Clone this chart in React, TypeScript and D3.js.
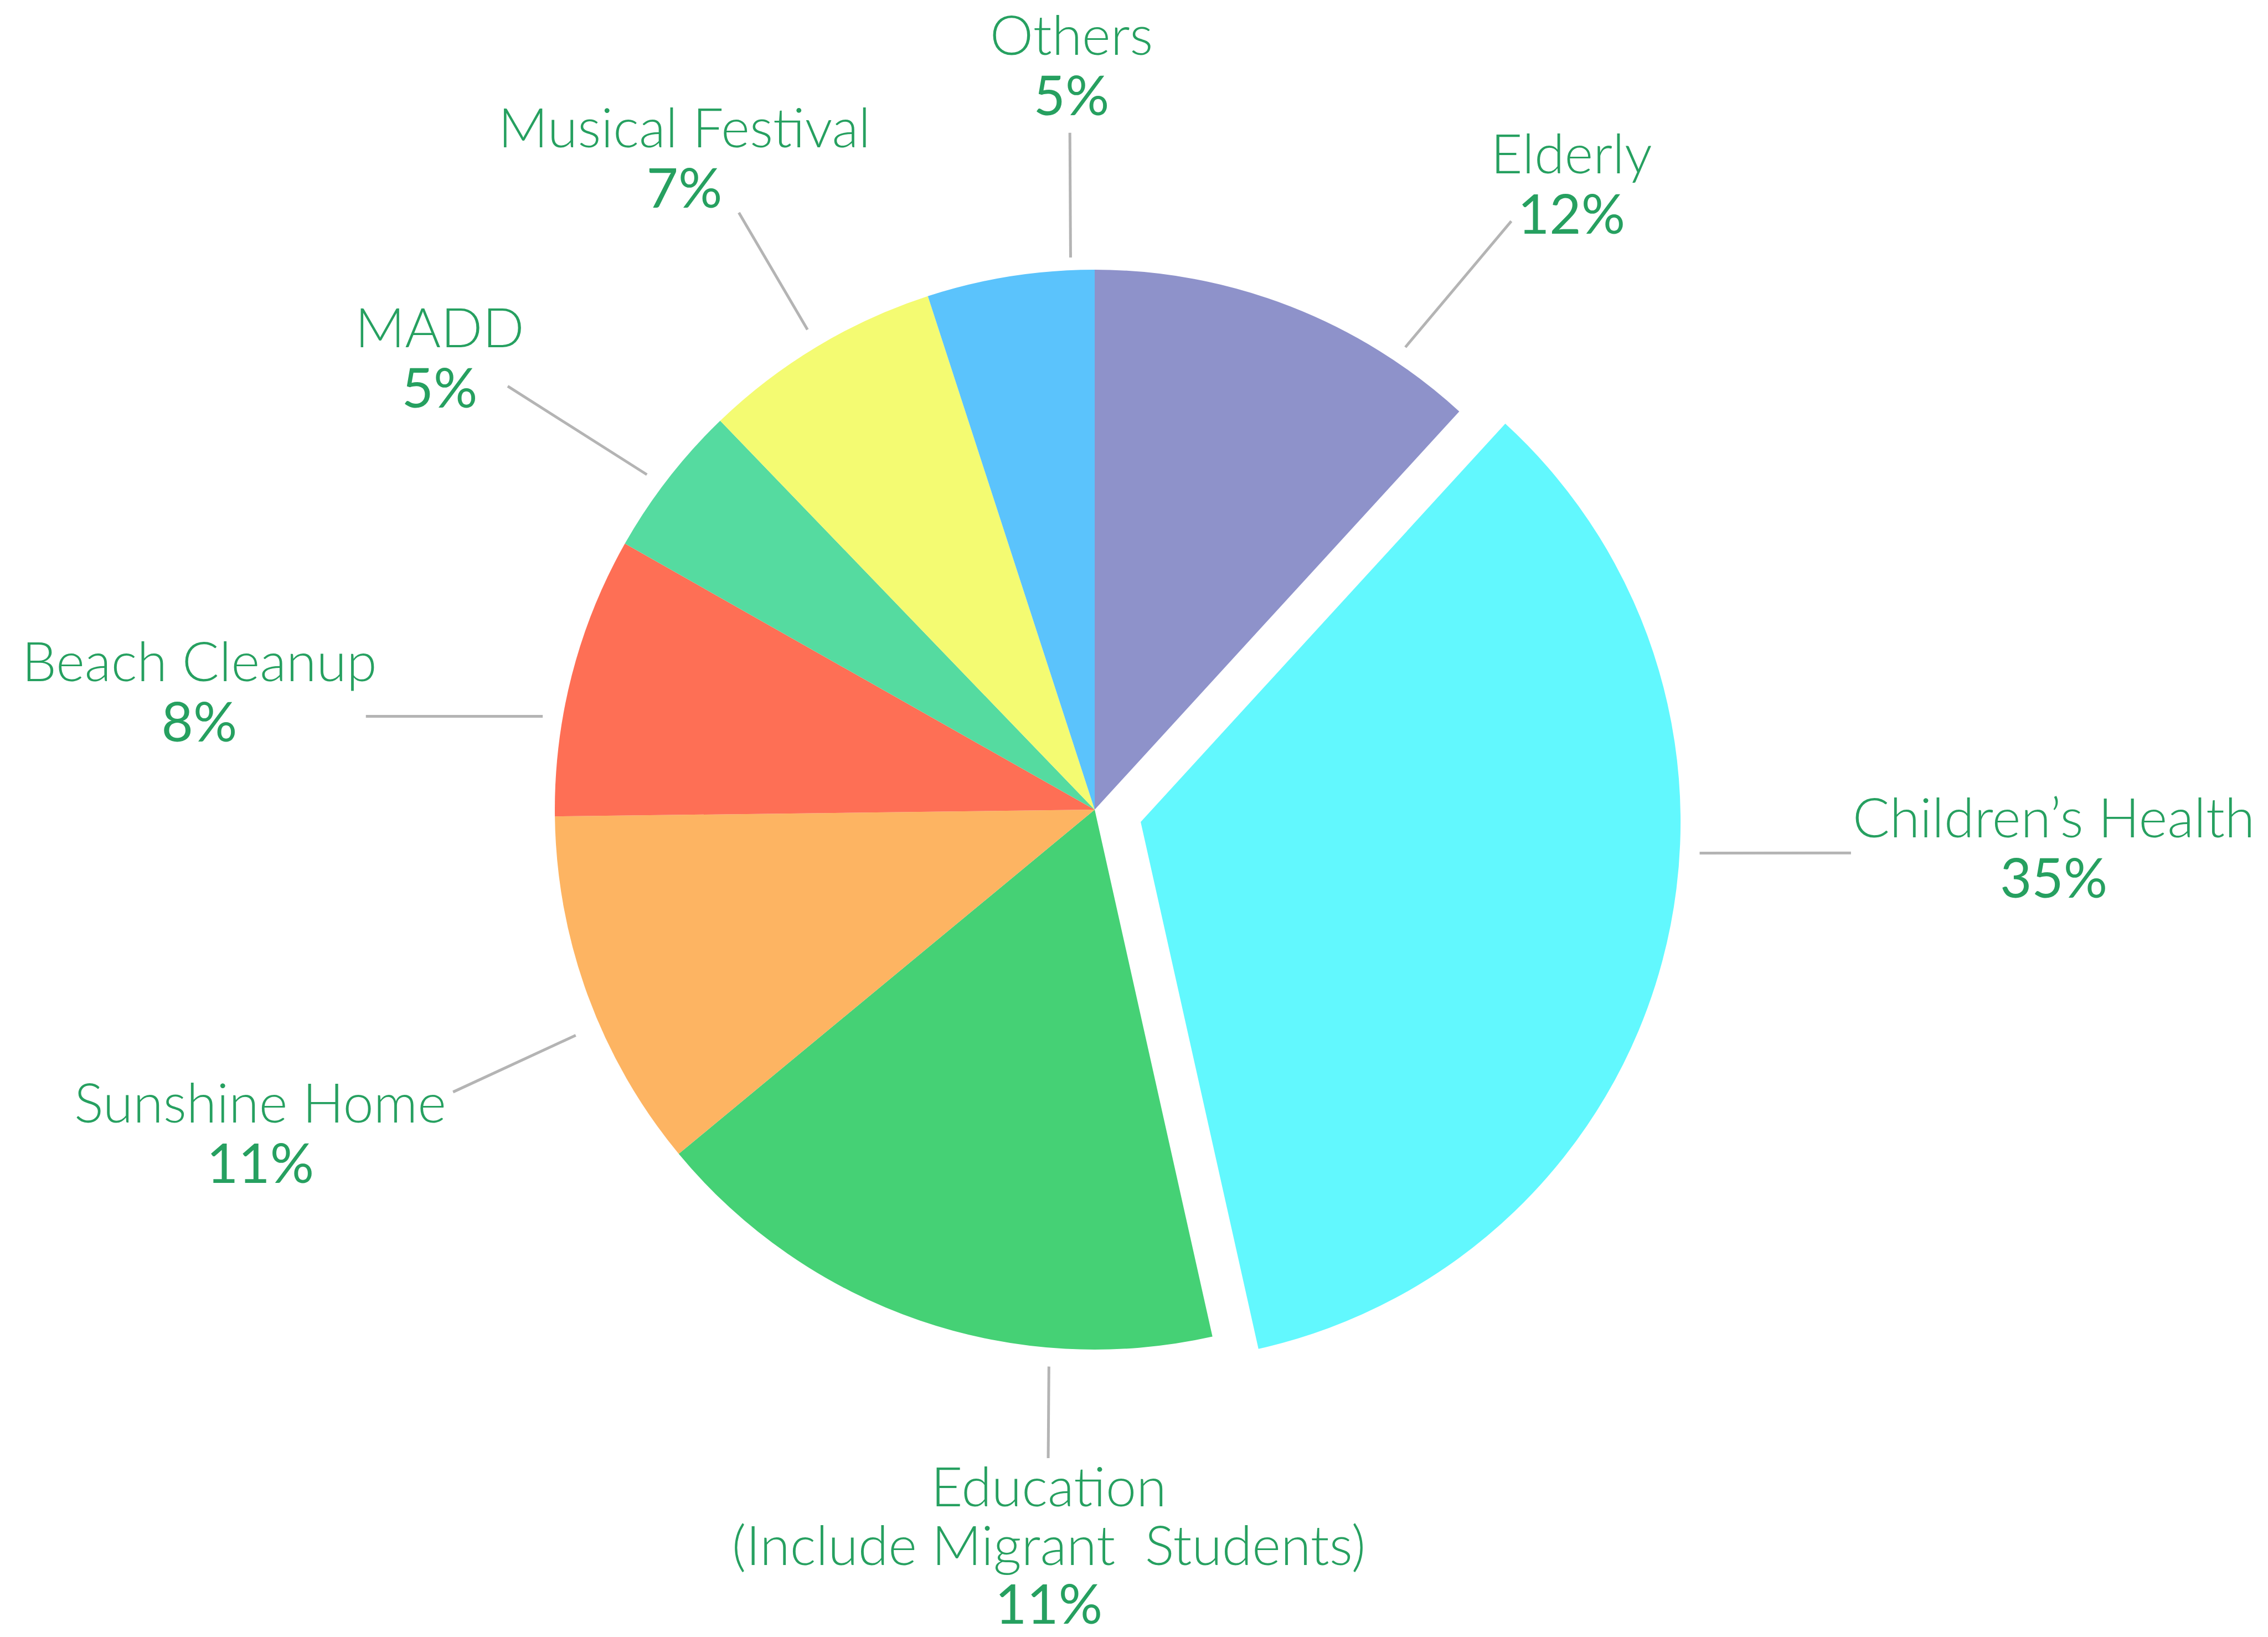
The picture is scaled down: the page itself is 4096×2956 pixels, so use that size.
import React from "react";
import * as d3 from "d3";

// ---- data ----
const categories = [
  "Elderly",
  "Children\u2019s Health",
  "Education",
  "Sunshine Home",
  "Beach Cleanup",
  "MADD",
  "Musical Festival",
  "Others",
];
// slice sizes as drawn (percent of the circle)
const sliceValues = [11.8, 34.7, 17.5, 10.8, 8.4, 4.6, 7.2, 5.0];
// percentages printed on the labels
const percentLabels = ["12%", "35%", "11%", "11%", "8%", "5%", "7%", "5%"];
// lines of label text
const nameLines = [
  ["Elderly"],
  ["Children\u2019s Health"],
  ["Education", "(Include Migrant\u00a0 Students)"],
  ["Sunshine Home"],
  ["Beach Cleanup"],
  ["MADD"],
  ["Musical Festival"],
  ["Others"],
];
const sliceColors = [
  "#8E92CA",
  "#62F8FE",
  "#45D175",
  "#FDB462",
  "#FE6F55",
  "#55DBA0",
  "#F4FB72",
  "#5BC3FC",
];
const explodedIndex = 1;

// ---- layout (output px) ----
const W = 4096;
const H = 2956;
const CX = 1977;
const CY = 1462;
const R = 975;
const EXPLODE = 86;
const FONT = 99;
const LINE_GAP = 109;
const TEXT_COLOR = "#26A060";
const LEADER_COLOR = "#B4B4B4";

// leader: inner angle (deg), inner radius, outer angle (deg), outer radius
const leaderLayout = [
  { a0: 33.9, r0: 1006, a1: 35.3, r1: 1302 },
  { a0: 93.2, r0: 1011, a1: 92.5, r1: 1284 },
  { a0: 184.7, r0: 1009, a1: 184.1, r1: 1174 },
  { a0: 246.5, r0: 1022, a1: 246.25, r1: 1266 },
  { a0: 279.6, r0: 1011, a1: 277.3, r1: 1327 },
  { a0: 306.8, r0: 1010, a1: 305.8, r1: 1307 },
  { a0: 329.1, r0: 1010, a1: 329.2, r1: 1255 },
  { a0: 357.5, r0: 998, a1: 357.9, r1: 1223 },
];
// label: centre x, first baseline y, line gap
const labelLayout = [
  { x: 2838, y: 313, gap: LINE_GAP },
  { x: 3709, y: 1512, gap: LINE_GAP },
  { x: 1894, y: 2720, gap: 106 },
  { x: 470, y: 2027, gap: LINE_GAP },
  { x: 360, y: 1230, gap: LINE_GAP },
  { x: 794, y: 627, gap: LINE_GAP },
  { x: 1236, y: 266, gap: LINE_GAP },
  { x: 1935, y: 99, gap: LINE_GAP },
];

const polar = (deg: number, r: number): [number, number] => {
  const a = (deg * Math.PI) / 180;
  return [Math.sin(a) * r, -Math.cos(a) * r];
};

export default function App() {
  const pie = d3
    .pie<number>()
    .sort(null)
    .value((d) => d)
    .startAngle(0)
    .endAngle(2 * Math.PI);
  const arcs = pie(sliceValues);
  const arc = d3.arc<d3.PieArcDatum<number>>().innerRadius(0).outerRadius(R);

  return (
    <svg
      width={W}
      height={H}
      viewBox={`0 0 ${W} ${H}`}
      style={{ position: "absolute", left: 0, top: 0, background: "#fff" }}
    >
      <rect width={W} height={H} fill="#ffffff" />
      <g transform={`translate(${CX},${CY})`}>
        {arcs.map((a, i) => {
          const mid = (a.startAngle + a.endAngle) / 2;
          const off = i === explodedIndex ? EXPLODE : 0;
          const tx = Math.sin(mid) * off;
          const ty = -Math.cos(mid) * off;
          return (
            <path
              key={categories[i]}
              d={arc(a) || ""}
              fill={sliceColors[i]}
              transform={`translate(${tx},${ty})`}
            />
          );
        })}
        {arcs.map((a, i) => {
          const mid = (a.startAngle + a.endAngle) / 2;
          const off = i === explodedIndex ? EXPLODE : 0;
          const ox = Math.sin(mid) * off;
          const oy = -Math.cos(mid) * off;
          const L = leaderLayout[i];
          const [x0, y0] = polar(L.a0, L.r0);
          const [x1, y1] = polar(L.a1, L.r1);
          return (
            <line
              key={"l" + i}
              x1={x0 + ox}
              y1={y0 + oy}
              x2={x1 + ox}
              y2={y1 + oy}
              stroke={LEADER_COLOR}
              strokeWidth={5}
            />
          );
        })}
      </g>
      {categories.map((c, i) => {
        const pos = labelLayout[i];
        const lines = nameLines[i];
        return (
          <g key={"t" + i} fill={TEXT_COLOR} textAnchor="middle" fontFamily="Lato, 'Open Sans', sans-serif">
            {lines.map((ln, j) => (
              <text key={j} x={pos.x} y={pos.y + j * pos.gap} fontSize={FONT} fontWeight={300}>
                {ln}
              </text>
            ))}
            <text
              x={pos.x}
              y={pos.y + lines.length * pos.gap}
              fontSize={FONT}
              fontWeight={400}
            >
              {percentLabels[i]}
            </text>
          </g>
        );
      })}
    </svg>
  );
}
